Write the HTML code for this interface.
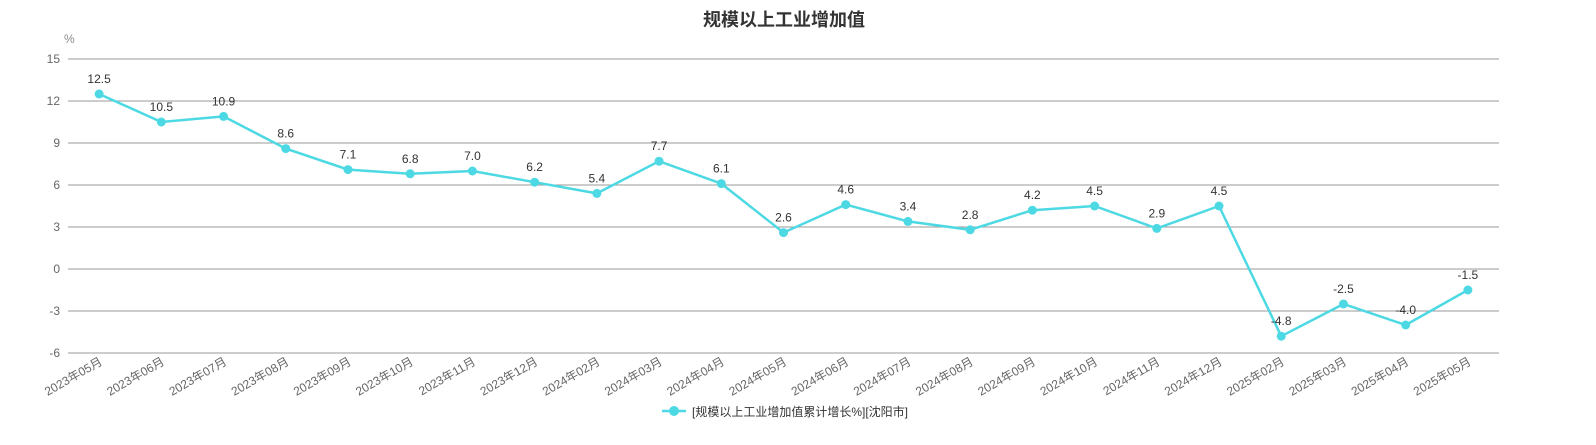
<!DOCTYPE html>
<html><head><meta charset="utf-8"><style>
body{margin:0;background:#fff;width:1596px;height:440px;overflow:hidden;font-family:"Liberation Sans","Noto Sans CJK SC",sans-serif;}
svg text{font-family:"Liberation Sans","Noto Sans CJK SC",sans-serif;}
</style></head><body>
<svg id="chart" width="1596" height="440" xmlns="http://www.w3.org/2000/svg">
<text x="784" y="26" text-anchor="middle" font-size="18" font-weight="bold" fill="#333">规模以上工业增加值</text>
<text x="64" y="43" font-size="12" fill="#888">%</text>
<g id="grid"></g><g id="xlabels"></g><g id="series"></g>
<g>
<line x1="662" y1="411" x2="686" y2="411" stroke="#4dd9e3" stroke-width="2.5"/>
<circle cx="674" cy="411" r="5" fill="#4dd9e3"/>
<text x="692" y="416" font-size="12" fill="#333">[规模以上工业增加值累计增长%][沈阳市]</text>
</g>
</svg>
<script>
const categories=["2023年05月","2023年06月","2023年07月","2023年08月","2023年09月","2023年10月","2023年11月","2023年12月","2024年02月","2024年03月","2024年04月","2024年05月","2024年06月","2024年07月","2024年08月","2024年09月","2024年10月","2024年11月","2024年12月","2025年02月","2025年03月","2025年04月","2025年05月"];
const values=[12.5,10.5,10.9,8.6,7.1,6.8,7.0,6.2,5.4,7.7,6.1,2.6,4.6,3.4,2.8,4.2,4.5,2.9,4.5,-4.8,-2.5,-4.0,-1.5];
const yTicks=[15,12,9,6,3,0,-3,-6];
const NS="http://www.w3.org/2000/svg";
const L=68,R=1499,T=59,B=353,yMin=-6,yMax=15;
const bw=(R-L)/categories.length;
const xs=i=>L+bw*(i+0.5);
const ys=v=>B-(v-yMin)/(yMax-yMin)*(B-T);
function mk(t,a,p){const e=document.createElementNS(NS,t);for(const k in a)e.setAttribute(k,a[k]);p.appendChild(e);return e;}
const grid=document.getElementById('grid');
yTicks.forEach(v=>{
const l=mk('line',{x1:L,x2:R,y1:ys(v),y2:ys(v),stroke:'#999','stroke-width':1},grid);


const t=mk('text',{x:60,y:ys(v)+4,'text-anchor':'end','font-size':12,fill:'#666'},grid);
t.textContent=v;


});
const xl=document.getElementById('xlabels');
categories.forEach((c,i)=>{
const x=xs(i)+4,y=364;
const t=mk('text',{x:x,y:y,'text-anchor':'end','font-size':12,fill:'#666',transform:`rotate(-30 ${x} ${y})`},xl);
t.textContent=c;


});
const s=document.getElementById('series');
const pl=mk('polyline',{points:values.map((v,i)=>xs(i)+','+ys(v)).join(' '),fill:'none',stroke:'#4dd9e3','stroke-width':2.5},s);


values.forEach((v,i)=>{
const c=mk('circle',{cx:xs(i),cy:ys(v),r:4.5,fill:'#4dd9e3'},s);


const t=mk('text',{x:xs(i),y:ys(v)-11,'text-anchor':'middle','font-size':12,fill:'#333'},s);
t.textContent=v.toFixed(1);


});
</script>
</body></html>
